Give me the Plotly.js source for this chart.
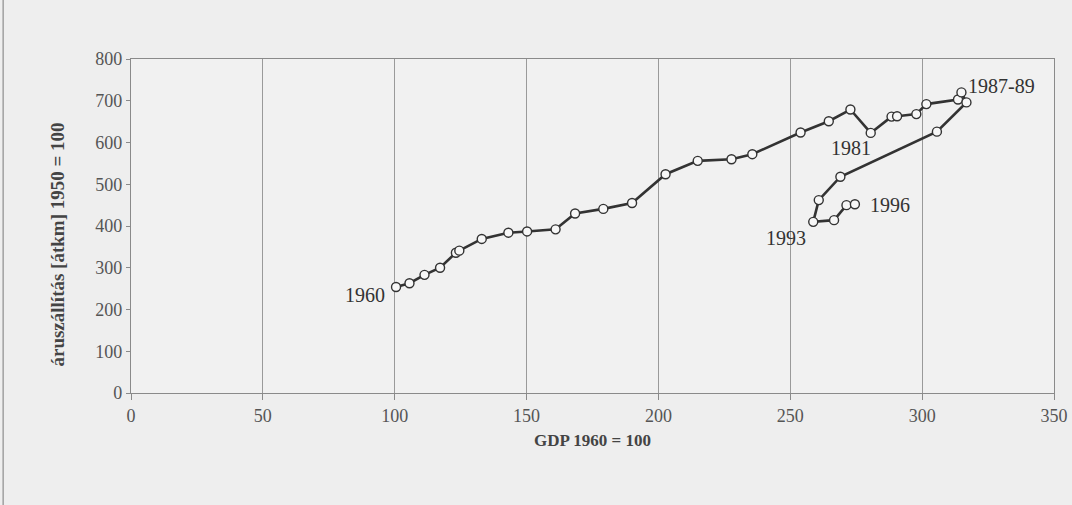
<!DOCTYPE html>
<html>
<head>
<meta charset="utf-8">
<script src="https://cdn.plot.ly/plotly-3.0.1.min.js"></script>
<style>
html,body{margin:0;padding:0;background:#eeeeee;}
#chart{width:1072px;height:505px;}
</style>
</head>
<body>
<div id="chart"></div>
<script>
// GDP index (1960 = 100), 1960..1996
const gdp = [100.5, 105.6, 111.3, 117.2, 123.2, 124.5, 133, 143.1, 150.2, 161, 168.4, 179.1, 190, 202.7, 214.9,
             227.7, 235.6, 253.9, 264.6, 272.8, 280.5, 288.4, 290.5, 297.8, 301.6, 313.6, 314.9, 316.8,
             305.6, 269, 260.8, 258.7, 266.6, 271.3, 274.5];
// freight transport (tkm) index (1950 = 100)
const freight = [254, 263, 283, 300, 336, 341, 369, 384, 387, 392, 430, 441, 455, 524, 556,
                 560, 572, 624, 651, 679, 623, 662, 663, 668, 692, 703, 720, 696,
                 626, 518, 462, 410, 414, 450, 452];
const xTicks = [0, 50, 100, 150, 200, 250, 300, 350];
const yTicks = [0, 100, 200, 300, 400, 500, 600, 700, 800];
const labels = ["1960", "1981", "1987-89", "1993", "1996"];
const labelX = [97.1, 272.9, 316.8, 256.6, 279.4];
const labelY = [235, 587, 735, 371, 450];
const labelAnchor = ["right", "center", "left", "right", "left"];
const yTitle = "áruszállítás [átkm] 1950 = 100";
const xTitle = "GDP 1960 = 100";

const serif = "Liberation Serif, Times New Roman, serif";

const trace = {
  x: gdp, y: freight, type: "scatter", mode: "lines+markers",
  line: {color: "#333333", width: 2.6},
  marker: {symbol: "circle", size: 9, color: "#f7f7f7", line: {color: "#333333", width: 1.4}},
  hoverinfo: "x+y"
};

const annotations = labels.map((t, i) => ({
  x: labelX[i], y: labelY[i], xref: "x", yref: "y", text: t, showarrow: false,
  xanchor: labelAnchor[i], yanchor: "middle",
  font: {family: serif, size: 20, color: "#333333"}
}));
annotations.push({
  x: -0.080, y: 0.445, xref: "paper", yref: "paper", text: "<b>" + yTitle + "</b>",
  showarrow: false, textangle: -90, xanchor: "center", yanchor: "middle",
  font: {family: serif, size: 19, color: "#444444"}
});

const layout = {
  width: 1072, height: 505,
  margin: {l: 131, r: 18, t: 59, b: 112},
  paper_bgcolor: "#eeeeee", plot_bgcolor: "#f1f1f1",
  showlegend: false,
  font: {family: serif, color: "#444444"},
  xaxis: {
    range: [0, 350], tickvals: xTicks, ticktext: xTicks.map(String),
    showgrid: true, gridcolor: "#9a9a9a", gridwidth: 1,
    showline: true, linecolor: "#8a8a8a", linewidth: 1.2, mirror: true,
    ticks: "outside", ticklen: 6, tickcolor: "#8a8a8a",
    zeroline: false,
    tickfont: {family: serif, size: 18, color: "#555555"},
    title: {text: "<b>" + xTitle + "</b>", font: {family: serif, size: 17, color: "#444444"}, standoff: 9}
  },
  yaxis: {
    range: [0, 800], tickvals: yTicks, ticktext: yTicks.map(String),
    showgrid: false,
    showline: true, linecolor: "#8a8a8a", linewidth: 1.2, mirror: true,
    ticks: "outside", ticklen: 4, tickcolor: "#8a8a8a",
    zeroline: false,
    tickfont: {family: serif, size: 18, color: "#555555"}
  },
  annotations: annotations,
  shapes: [
    {type: "line", xref: "paper", yref: "paper", x0: -0.1385, x1: -0.1385, y0: -0.335, y1: 1.18,
     line: {color: "#a0a0a0", width: 1.5}}
  ]
};

Plotly.newPlot("chart", [trace], layout, {displayModeBar: false, staticPlot: true});
</script>
</body>
</html>
